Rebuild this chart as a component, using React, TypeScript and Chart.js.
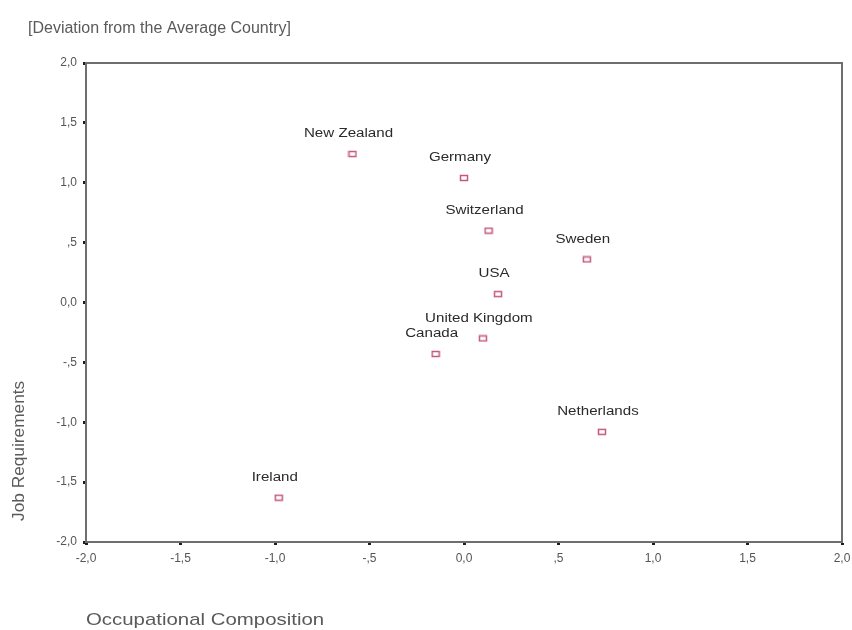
import React, { useEffect, useRef } from "react";
import { Chart, registerables } from "chart.js";

Chart.register(...registerables);

// Country positions: occupational composition (x) vs job requirements (y)
const countries = [
  "New Zealand",
  "Germany",
  "Switzerland",
  "Sweden",
  "USA",
  "United Kingdom",
  "Canada",
  "Netherlands",
  "Ireland",
];
const occupationalComposition = [-0.59, 0.0, 0.13, 0.65, 0.18, 0.1, -0.15, 0.73, -0.98];
const jobRequirements = [1.24, 1.04, 0.6, 0.36, 0.07, -0.3, -0.43, -1.08, -1.63];

const axisMin = -2;
const axisMax = 2;
const axisStep = 0.5;

const chartTitle = "[Deviation from the Average Country]";
const xAxisTitle = "Occupational Composition";
const yAxisTitle = "Job Requirements";

const FONT = "'Liberation Sans', Arial, sans-serif";

// SPSS-style tick text: comma decimal, no leading zero below one
function formatTick(v: number): string {
  if (Math.abs(v) < 1e-9) return "0,0";
  const s = Math.abs(v).toFixed(1).replace(".", ",");
  const trimmed = s.startsWith("0,") ? s.slice(1) : s;
  return (v < 0 ? "-" : "") + trimmed;
}

function makeMarker(color: string): HTMLCanvasElement {
  const c = document.createElement("canvas");
  c.width = 10;
  c.height = 8;
  const ctx = c.getContext("2d")!;
  ctx.strokeStyle = color;
  ctx.lineWidth = 1.5;
  ctx.strokeRect(1.5, 1.5, 7, 5);
  return c;
}

function drawStretched(
  ctx: CanvasRenderingContext2D,
  text: string,
  x: number,
  y: number,
  sx: number,
  align: CanvasTextAlign
) {
  ctx.save();
  ctx.translate(x, y);
  ctx.scale(sx, 1);
  ctx.textAlign = align;
  ctx.fillText(text, 0, 0);
  ctx.restore();
}

const annotations = {
  id: "annotations",
  afterDraw(chart: any) {
    const { ctx, chartArea, scales } = chart;
    ctx.save();

    // frame around the plot area
    ctx.strokeStyle = "#6e6e6e";
    ctx.lineWidth = 2;
    ctx.strokeRect(chartArea.left, chartArea.top, chartArea.right - chartArea.left, chartArea.bottom - chartArea.top);

    // point labels
    ctx.fillStyle = "#2a2a2a";
    ctx.font = `12px ${FONT}`;
    ctx.textBaseline = "middle";
    countries.forEach((name, i) => {
      const px = scales.x.getPixelForValue(occupationalComposition[i]);
      const py = scales.y.getPixelForValue(jobRequirements[i]);
      drawStretched(ctx, name, px - 4, py - 20, 1.26, "center");
    });

    // chart title
    ctx.fillStyle = "#5a5a5a";
    ctx.font = `16px ${FONT}`;
    drawStretched(ctx, chartTitle, 28, 29, 1.0, "left");

    // axis titles
    ctx.font = `17px ${FONT}`;
    drawStretched(ctx, xAxisTitle, 86, 620, 1.2, "left");

    ctx.font = `16px ${FONT}`;
    ctx.save();
    ctx.translate(20, 521);
    ctx.rotate(-Math.PI / 2);
    ctx.scale(1.08, 1);
    ctx.textAlign = "left";
    ctx.fillText(yAxisTitle, 0, 0);
    ctx.restore();

    ctx.restore();
  },
};

export default function App() {
  const canvasRef = useRef<HTMLCanvasElement | null>(null);

  useEffect(() => {
    const canvas = canvasRef.current;
    if (!canvas) return;
    const marker = makeMarker("#c45a7e");

    const points = occupationalComposition.map((x, i) => ({ x, y: jobRequirements[i] }));

    const scaleBase = (afterFit: (s: any) => void) => ({
      type: "linear" as const,
      min: axisMin,
      max: axisMax,
      border: { display: true, color: "#6e6e6e", width: 2 },
      grid: {
        display: true,
        drawOnChartArea: false,
        drawTicks: true,
        tickLength: 3,
        tickWidth: 3,
        tickColor: "#1e1e1e",
      },
      ticks: {
        stepSize: axisStep,
        color: "#555555",
        font: { family: FONT, size: 12 },
        padding: 6,
        callback: (v: any) => formatTick(Number(v)),
      },
      afterFit,
    });

    const chart = new Chart(canvas, {
      type: "scatter",
      data: {
        datasets: [
          {
            label: "Countries",
            data: points,
            pointStyle: marker,
            pointRadius: 4,
            pointHoverRadius: 4,
          },
        ],
      },
      options: {
        responsive: false,
        animation: false,
        layout: { padding: { top: 63, right: 10, left: 0, bottom: 0 } },
        plugins: {
          legend: { display: false },
          title: { display: false },
          tooltip: { enabled: false },
        },
        scales: {
          x: {
            ...scaleBase((s: any) => {
              s.height = 88;
              s.paddingLeft = 0;
              s.paddingRight = 0;
            }),
            position: "bottom",
          },
          y: {
            ...scaleBase((s: any) => {
              s.width = 86;
              s.paddingTop = 0;
              s.paddingBottom = 0;
            }),
            position: "left",
          },
        },
      },
      plugins: [annotations],
    });

    return () => chart.destroy();
  }, []);

  return (
    <div style={{ position: "absolute", left: 0, top: 0, width: 852, height: 630, background: "#ffffff" }}>
      <canvas ref={canvasRef} width={852} height={630} />
    </div>
  );
}
